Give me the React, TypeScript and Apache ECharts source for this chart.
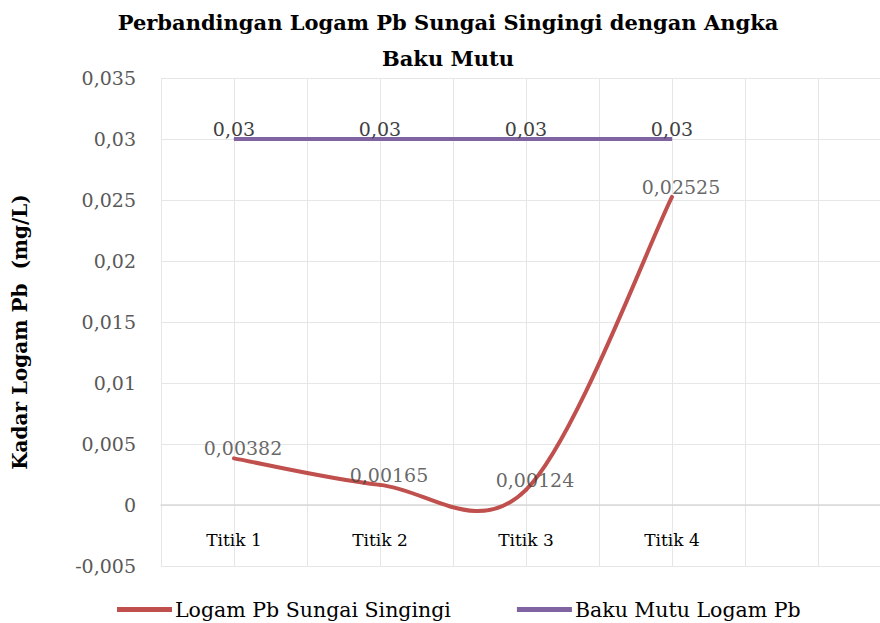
import React, { useEffect, useRef } from "react";
import * as echarts from "echarts";

const categories = ["Titik 1", "Titik 2", "Titik 3", "Titik 4"];
const logamPb = [0.00382, 0.00165, 0.00124, 0.02525];
const bakuMutu = [0.03, 0.03, 0.03, 0.03];
const seriesNames = ["Logam Pb Sungai Singingi", "Baku Mutu Logam Pb"];
const titleText = "Perbandingan Logam Pb Sungai Singingi dengan Angka\nBaku Mutu";
const yTitle = "Kadar Logam Pb  (mg/L)";

const FONT = "DejaVu Serif";
const RED = "#C0504D";
const PURPLE = "#8064A2";
const fmt = (v: number) => String(parseFloat(v.toFixed(6))).replace(".", ",");

export default function App() {
  const ref = useRef<HTMLDivElement>(null);
  useEffect(() => {
    if (!ref.current) return;
    const chart = echarts.init(ref.current, undefined, { renderer: "svg" });
    const redData = logamPb.map((v, i) => [i + 1, v]);
    chart.setOption({
      animation: false,
      backgroundColor: "#ffffff",
      title: {
        text: titleText,
        left: 443,
        textAlign: "center",
        top: -1,
        textStyle: { fontFamily: FONT, fontWeight: "bold", fontSize: 21, lineHeight: 36, color: "#000" },
      },
      grid: { left: 161, top: 78, width: 730, height: 488, containLabel: false, outerBoundsMode: "none" },
      legend: {
        left: 112,
        top: 594,
        icon: "rect",
        itemWidth: 55,
        itemHeight: 5,
        itemGap: 66,
        textStyle: { fontFamily: FONT, fontSize: 20.5, color: "#000", padding: [0, 0, 0, -2] },
        data: [
          { name: seriesNames[0], itemStyle: { color: RED } },
          { name: seriesNames[1], itemStyle: { color: PURPLE } },
        ],
      },
      xAxis: {
        type: "value",
        min: 0.5,
        max: 5.5,
        interval: 0.5,
        axisLine: { onZero: true, lineStyle: { color: "#d9d9d9", width: 1.5 } },
        axisTick: { show: false },
        splitLine: { show: true, lineStyle: { color: "#e6e6e6", width: 1 } },
        axisLabel: {
          margin: -35,
          fontFamily: FONT,
          fontSize: 17,
          color: "#000",
          showMinLabel: true,
          showMaxLabel: true,
          formatter: (v: number) => (Number.isInteger(v) && categories[v - 1]) || "",
        },
      },
      yAxis: {
        type: "value",
        min: -0.005,
        max: 0.035,
        interval: 0.005,
        axisLine: { show: false },
        axisTick: { show: false },
        splitLine: { show: true, lineStyle: { color: "#e6e6e6", width: 1 } },
        axisLabel: { margin: 25, fontFamily: FONT, fontSize: 19, color: "#595959", formatter: (v: number) => fmt(v) },
        name: yTitle,
        nameLocation: "middle",
        nameGap: 131,
        nameRotate: 90,
        nameTextStyle: { fontFamily: FONT, fontWeight: "bold", fontSize: 20, color: "#000", padding: [0, 20, 0, 0] },
      },
      series: [
        {
          name: seriesNames[0],
          type: "custom",
          itemStyle: { color: RED },
          data: redData,
          z: 3,
          renderItem: (params: any, api: any) => {
            const i = params.dataIndex;
            const n = logamPb.length;
            if (i >= n - 1) return null;
            const P = (j: number) => {
              const k = Math.max(0, Math.min(n - 1, j));
              return api.coord([k + 1, logamPb[k]]);
            };
            const p0 = P(i - 1), p1 = P(i), p2 = P(i + 1), p3 = P(i + 2);
            return {
              type: "bezierCurve",
              shape: {
                x1: p1[0], y1: p1[1],
                x2: p2[0], y2: p2[1],
                cpx1: p1[0] + (p2[0] - p0[0]) / 6,
                cpy1: p1[1] + (p2[1] - p0[1]) / 6,
                cpx2: p2[0] - (p3[0] - p1[0]) / 6,
                cpy2: p2[1] - (p3[1] - p1[1]) / 6,
              },
              style: { stroke: RED, lineWidth: 4, fill: "none", lineCap: "round" },
            };
          },
        },
        {
          type: "scatter",
          data: redData,
          symbolSize: 1,
          itemStyle: { color: "transparent" },
          silent: true,
          z: 4,
          label: {
            show: true,
            position: "top",
            distance: 0,
            offset: [9, 0],
            fontFamily: FONT,
            fontSize: 19,
            color: "#404040",
            formatter: (p: any) => fmt(p.value[1]),
          },
        },
        {
          name: seriesNames[1],
          type: "line",
          symbol: "circle",
          symbolSize: 1,
          showSymbol: true,
          color: PURPLE,
          itemStyle: { color: PURPLE },
          lineStyle: { width: 4, color: PURPLE },
          data: bakuMutu.map((v, i) => [i + 1, v]),
          label: {
            show: true,
            position: "top",
            distance: 0,
            offset: [0, 0],
            fontFamily: FONT,
            fontSize: 19,
            color: "#404040",
            formatter: (p: any) => fmt(p.value[1]),
          },
          z: 2,
        },
      ],
    });
    return () => chart.dispose();
  }, []);
  return <div ref={ref} style={{ width: 880, height: 623, position: "absolute", left: 0, top: 0 }} />;
}
